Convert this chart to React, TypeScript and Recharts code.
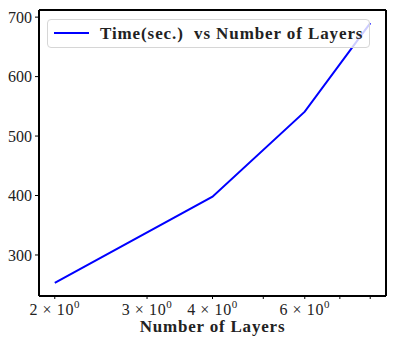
import { LineChart, Line, XAxis, YAxis } from "recharts";

const layers = [2, 4, 6, 8];
const timeSec = [253, 398, 541, 690];
const xTicks = [2, 3, 4, 5, 6, 7, 8];
const xLabeled = [2, 3, 4, 6];
const yTicks = [300, 400, 500, 600, 700];
const seriesName = "Time(sec.)  vs Number of Layers";
const xTitle = "Number of Layers";

const data = layers.map((n, i) => ({ layers: n, time: timeSec[i] }));

const FONT = "'Liberation Serif', 'DejaVu Serif', serif";
const INK = "#222";

function XTick(props: any) {
  const { x, payload } = props;
  const v = payload.value as number;
  return (
    <g>
      <line x1={x} x2={x} y1={296} y2={299} stroke="#000" strokeWidth={1} />
      {xLabeled.includes(v) && (
        <text
          x={x}
          y={315}
          textAnchor="middle"
          fontFamily={FONT}
          fontSize={16}
          letterSpacing={0.6}
          fill={INK}
        >
          {`${v} × 10`}
          <tspan dy={-7} fontSize={11}>
            0
          </tspan>
        </text>
      )}
    </g>
  );
}

export default function App() {
  return (
    <div style={{ position: "fixed", left: 0, top: 0, width: 395, height: 344, background: "#fff" }}>
      <LineChart
        width={395}
        height={344}
        data={data}
        margin={{ top: 9, right: 8, left: 0, bottom: 0 }}
      >
        <XAxis
          dataKey="layers"
          type="number"
          scale="log"
          domain={[1.866, 8.574]}
          allowDataOverflow
          ticks={xTicks}
          interval={0}
          height={48}
          tick={<XTick />}
          tickLine={false}
          axisLine={{ stroke: "#000", strokeWidth: 2 }}
          label={{
            value: xTitle,
            position: "insideBottom",
            offset: 12,
            style: {
              fontFamily: FONT,
              fontSize: 17,
              fontWeight: 700,
              fill: INK,
              letterSpacing: 0.8,
            },
          }}
        />
        <XAxis
          xAxisId="top"
          orientation="top"
          dataKey="layers"
          type="number"
          scale="log"
          domain={[1.866, 8.574]}
          allowDataOverflow
          height={1}
          tick={false}
          tickLine={false}
          axisLine={{ stroke: "#000", strokeWidth: 2 }}
        />
        <YAxis
          type="number"
          domain={[231, 712]}
          allowDataOverflow
          ticks={yTicks}
          width={39}
          tickSize={4}
          tickMargin={3}
          tickLine={{ stroke: "#000" }}
          axisLine={{ stroke: "#000", strokeWidth: 2 }}
          tick={{ fontFamily: FONT, fontSize: 16, fill: INK }}
        />
        <YAxis
          yAxisId="right"
          orientation="right"
          type="number"
          domain={[231, 712]}
          width={1}
          tick={false}
          tickLine={false}
          axisLine={{ stroke: "#000", strokeWidth: 2 }}
        />
        <Line
          type="linear"
          dataKey="time"
          stroke="#0000ff"
          strokeWidth={2}
          dot={false}
          isAnimationActive={false}
        />
      </LineChart>
      <div
        style={{
          position: "absolute",
          left: 47,
          top: 19,
          width: 321,
          height: 27,
          border: "1px solid #d6d6d6",
          borderRadius: 4,
          background: "rgba(255,255,255,0.8)",
          display: "flex",
          alignItems: "center",
        }}
      >
        <svg width={52} height={27} style={{ flex: "none" }}>
          <line x1={6} x2={41} y1={13} y2={13} stroke="#0000ff" strokeWidth={2} />
        </svg>
        <span
          style={{
            fontFamily: FONT,
            fontSize: 17,
            fontWeight: 700,
            color: INK,
            whiteSpace: "pre",
            letterSpacing: 0.9,
          }}
        >
          {seriesName}
        </span>
      </div>
    </div>
  );
}
